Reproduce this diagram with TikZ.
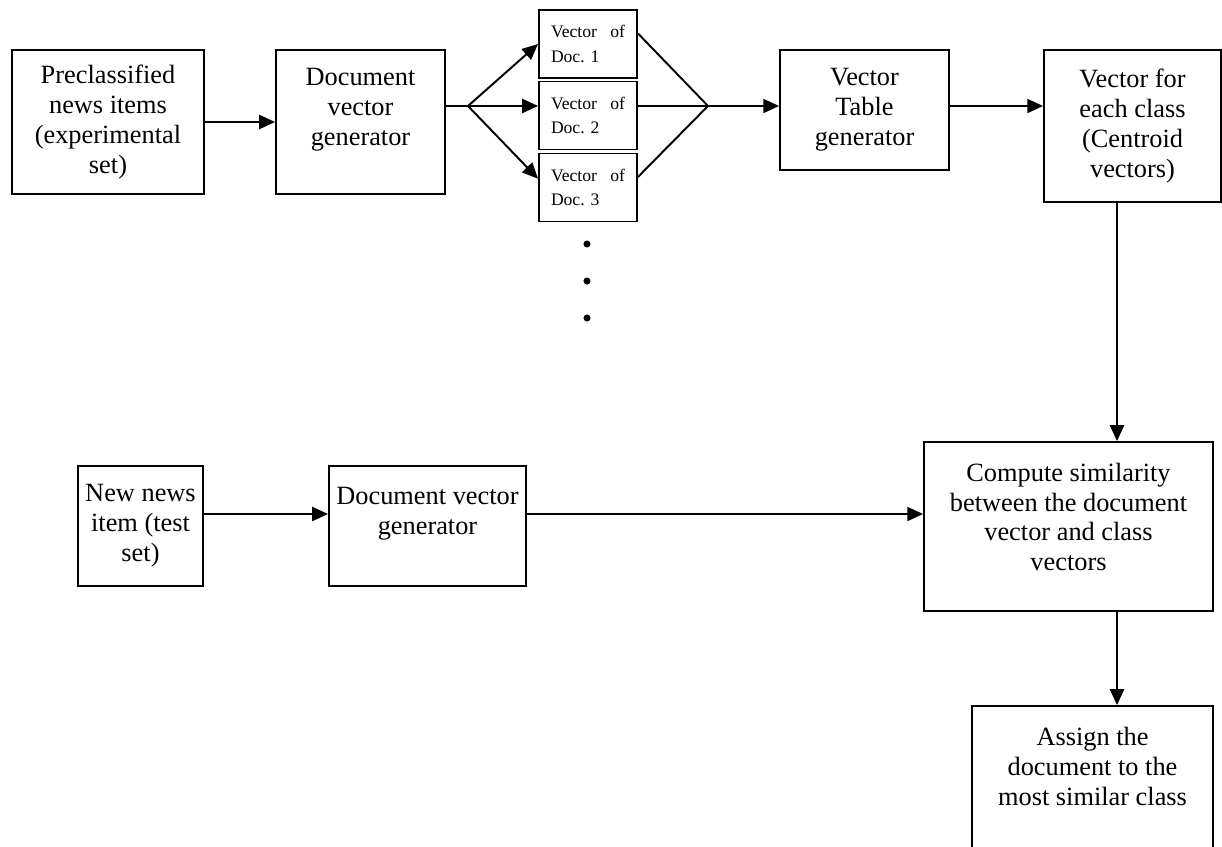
\documentclass[tikz,border=0pt]{standalone}
\usepackage{fontspec}
\setmainfont{Liberation Serif}
\usetikzlibrary{arrows.meta}
\tikzset{font=\fontsize{15pt}{17pt}\selectfont}

\begin{document}
\begin{tikzpicture}[x=0.02cm,y=-0.02cm,line width=1.1pt,>={Triangle[length=9pt,width=8pt]},
    every node/.style={draw,align=center,inner sep=0pt},
    vecbox/.style={minimum width=1.96cm,minimum height=1.36cm,text width=1.48cm,align=left,font=\fontsize{10pt}{14pt}\selectfont},
    dot/.style={circle,fill,draw=none,minimum size=4pt}]
      \useasboundingbox (0,0) rectangle (1222,847);

      \node[minimum width=3.84cm,minimum height=2.88cm] (Pre) at (108,122) {Preclassified\\news items\\(experimental\\set)};
      \node[minimum width=3.38cm,minimum height=2.88cm] (DVG) at (360.5,122) {Document\\vector\\generator\\~};

      \node[vecbox] (V1) at (588,44) {Vector\hfill of\\Doc.\ 1};
      \node[vecbox] (V2) at (588,115.5) {Vector\hfill of\\Doc.\ 2};
      \node[vecbox] (V3) at (588,187.5) {Vector\hfill of\\Doc.\ 3};
      \node[dot] (D1) at (587,244) {};
      \node[dot] (D2) at (587,281) {};
      \node[dot] (D3) at (587,318) {};

      \node[minimum width=3.38cm,minimum height=2.4cm] (Table) at (864.5,110) {Vector\\Table\\generator};
      \node[minimum width=3.54cm,minimum height=3.04cm] (Cent) at (1132.5,126) {Vector for\\each class\\(Centroid\\vectors)};

      \node[minimum width=2.5cm,minimum height=2.4cm] (New) at (140.5,526) {New news\\item (test\\set)};
      \node[minimum width=3.94cm,minimum height=2.4cm] (DVG2) at (427.5,526) {Document vector\\generator\\~};
      \node[minimum width=5.78cm,minimum height=3.38cm] (Sim) at (1068.5,526.5) {Compute similarity\\between the document\\vector and class\\vectors\\[-6pt]~};
      \node[minimum width=4.82cm,minimum height=3cm] (Assign) at (1092.5,781) {Assign the\\document to the\\most similar class\\~};

      \coordinate (Fork) at (468,106);
      \coordinate (Merge) at (708,106);
      \coordinate (Down) at (1117,0);
      \coordinate (Row) at (0,514);

      \path [->](Pre.east) edge (DVG.west);
      \draw (DVG.east |- Fork) -- (Fork);
      \path [->](Fork) edge (V1.west);
      \path [->](Fork) edge (V2.west |- Fork);
      \path [->](Fork) edge ([yshift=5pt]V3.west);

      \draw ([yshift=6pt]V1.east) -- (Merge);
      \draw (V2.east |- Merge) -- (Merge);
      \draw ([yshift=6pt]V3.east) -- (Merge);

      \path [->](Merge) edge (Table.west |- Merge);
      \path [->](Table.east |- Merge) edge (Cent.west |- Merge);
      \path [->](Cent.south -| Down) edge (Sim.north -| Down);
      \path [->](Sim.south -| Down) edge (Assign.north -| Down);

      \path [->](New.east |- Row) edge (DVG2.west |- Row);
      \path [->](DVG2.east |- Row) edge (Sim.west |- Row);
\end{tikzpicture}
\end{document}
